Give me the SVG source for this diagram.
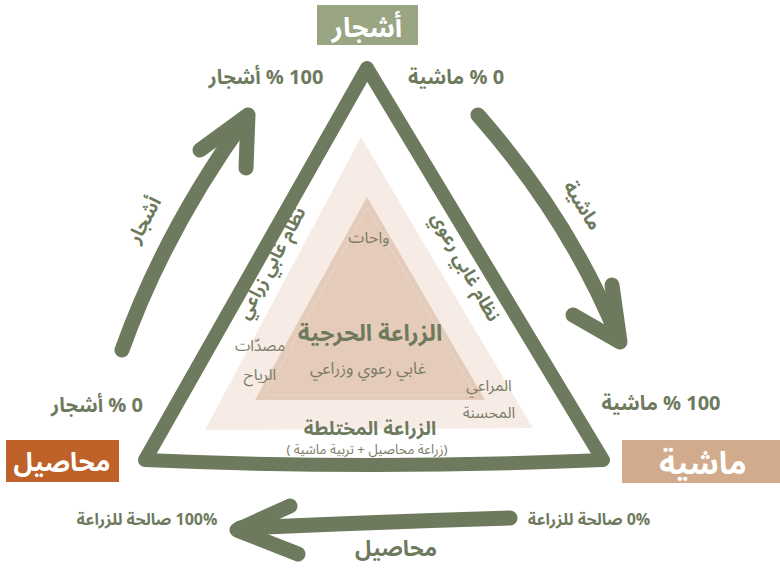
<svg xmlns="http://www.w3.org/2000/svg" width="780" height="571" viewBox="0 0 780 571">
<style>
text{font-family:"Noto Sans Arabic","DejaVu Sans","Noto Sans",sans-serif;text-anchor:middle;direction:rtl}
.pct{font-size:20px;font-weight:bold;fill:#6e7a5d}
.lbl{font-size:16px;fill:#7b7c68}
.big{font-weight:bold;fill:#ffffff}
.arr{fill:none;stroke:#6e7a5d;stroke-width:15;stroke-linecap:round;stroke-linejoin:round}
</style>
<rect width="780" height="571" fill="#ffffff"/>
<g id="bands">
<polygon points="361,137 205,430 533,428" fill="#f6ece5"/>
<polygon points="367,197 255,400 485,400" fill="#e5cbb9"/>
<polygon points="367,208 265,395 476,395" fill="none" stroke="#f3e6dc" stroke-width="0.8" stroke-dasharray="2,2"/>
</g>
<g id="connectors">
<path d="M145,460 L367,68 L603,460 Q374,470 145,460 Z" fill="none" stroke="#6e7a5d" stroke-width="14" stroke-linejoin="round"/>
<path class="arr" d="M122,350 Q165,230 246,118"/>
<path class="arr" d="M200,150 L248,115 L246,168"/>
<path class="arr" d="M478,115 Q570,220 618,338"/>
<path class="arr" d="M573,315 L620,342 L612,285"/>
<path class="arr" d="M510,518 Q380,522 240,528"/>
<path class="arr" d="M290,506 L237,530 L298,554"/>
</g>
<g id="node-ashjar">
<rect x="317" y="5" width="101" height="40" fill="#9aa583"/>
<text class="big" x="367" y="37" font-size="27">أشجار</text>
</g>
<g id="node-mahasil">
<rect x="6" y="440" width="113" height="42" fill="#bf6229"/>
<text class="big" x="62" y="471" font-size="26">محاصيل</text>
</g>
<g id="node-mashiya">
<rect x="622" y="440" width="158" height="43" fill="#d2ab8c"/>
<text class="big" x="703" y="474" font-size="31">ماشية</text>
</g>
<g id="labels">
<text class="pct" x="266" y="84">100 % أشجار</text>
<text class="pct" x="456" y="84">0 % ماشية</text>
<text class="pct" x="97" y="412">0 % أشجار</text>
<text class="pct" x="661" y="410">100 % ماشية</text>
<text class="pct" x="147" y="525" style="font-size:16px">100% صالحة للزراعة</text>
<text class="pct" x="589" y="525" style="font-size:16px">0% صالحة للزراعة</text>
<text class="pct" x="396" y="556" style="font-size:22px">محاصيل</text>
<text class="pct" style="font-size:19px" transform="translate(150,223) rotate(-62)">أشجار</text>
<text class="pct" style="font-size:19px" transform="translate(577,209) rotate(58)">ماشية</text>
<text class="pct" style="font-size:18px" transform="translate(277,266) rotate(-62)">نظام غابي زراعي</text>
<text class="pct" style="font-size:18px" transform="translate(460,270) rotate(61)">نظام غابي رعوي</text>
<text class="lbl" x="369" y="243">واحات</text>
<text class="pct" x="370" y="341" style="font-size:23px">الزراعة الحرجية</text>
<text class="lbl" x="368" y="374" style="font-size:16.5px">غابي رعوي وزراعي</text>
<text class="lbl" x="260" y="351" style="font-size:15.5px">مصدّات</text>
<text class="lbl" x="260" y="380" style="font-size:15.5px">الرياح</text>
<text class="lbl" x="489" y="391" style="font-size:15.5px">المراعي</text>
<text class="lbl" x="489" y="418" style="font-size:15.5px">المحسنة</text>
<text class="pct" x="370" y="435" style="font-size:19px">الزراعة المختلطة</text>
<text class="lbl" x="367" y="454" style="font-size:13.3px">(زراعة محاصيل + تربية ماشية )</text>
</g>
</svg>
